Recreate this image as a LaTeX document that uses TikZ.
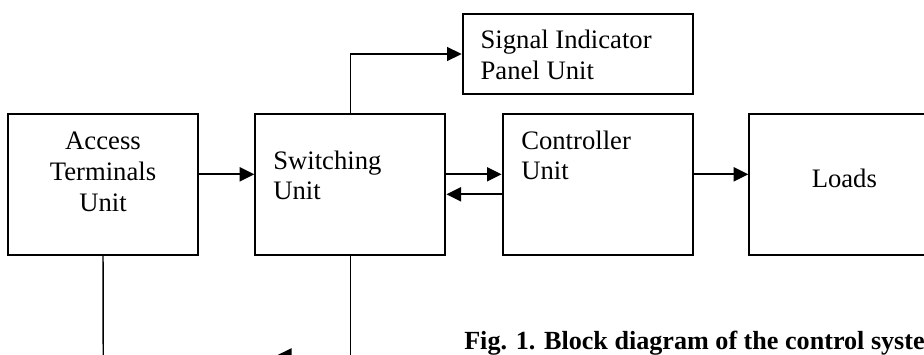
\documentclass[tikz,border=0pt]{standalone}
\usepackage{fontspec}
\setmainfont{Liberation Serif}
\usepackage{tikz}
\usetikzlibrary{arrows.meta, positioning}
\tikzset{%
  unit_block/.style={%
    rectangle,%
    draw=black,%
    line width=1.5pt,%
    minimum width=142.5pt,%
    minimum height=105.75pt,%
  },
  unit_text/.style={%
    inner sep=0pt,%
    align=left,%
    font={\fontsize{20}{23}\selectfont},%
  },
  caption_text/.style={%
    inner sep=0pt,%
    font={\fontsize{19.6}{23}\selectfont\bfseries},%
  },
  wire_path/.style={%
    color=black,%
    line width=1.5pt,%
    line join=miter,%
  },
  thin_path/.style={%
    color=black,%
    line width=1.1pt,%
  },
  arrow/.style={-{Triangle[length=11pt, width=10.5pt]}},
}
\begin{document}
\begin{tikzpicture}[x=0.75pt, y=-0.75pt]

    \useasboundingbox (0, 0) rectangle (924, 354);
    \clip (0, 0) rectangle (924, 354);

    \node [unit_block] (acc) at (103, 184.5) {};
    \node [unit_block, right = 41.5pt of acc] (sw) {};
    \node [unit_block, right = 41.5pt of sw] (ctrl) {};
    \node [unit_block, right = 41pt of ctrl] (loads) {};
    \node [unit_block, minimum width=172.5pt, minimum height=60pt,
      above = 13.5pt of ctrl.north east, anchor=south east] (sig) {};

    \node [unit_text, align=center] (acc_txt)
      at ([yshift=9.6pt]acc.center) {Access\\Terminals\\Unit};
    \node [unit_text, anchor=west] (sw_txt)
      at ([xshift=14pt, yshift=6.75pt]sw.west) {Switching\\Unit};
    \node [unit_text, anchor=west] (ctrl_txt)
      at ([xshift=14.5pt, yshift=21.75pt]ctrl.west) {Controller\\Unit};
    \node [unit_text, align=center] (loads_txt)
      at ([yshift=4.35pt]loads.center) {Loads};
    \node [unit_text, anchor=west] (sig_txt)
      at ([xshift=14pt, yshift=-0.75pt]sig.west) {Signal Indicator\\Panel Unit};

    \node [caption_text, anchor=base west] (fig_caption)
      at (464, 349.3) {Fig. 1. Block diagram of the control system};

    \coordinate (acc_down) at (103.3, 370);
    \coordinate (fb_tip) at (277, 355.3);

    \draw [arrow, wire_path]
      ([yshift=7.65pt]acc.east) -- ([yshift=7.65pt]sw.west);
    \draw [arrow, wire_path]
      ([yshift=7.65pt]sw.east) -- ([yshift=7.65pt]ctrl.west);
    \draw [arrow, wire_path]
      ([yshift=-7.35pt]ctrl.west) -- ([yshift=-7.35pt]sw.east);
    \draw [arrow, wire_path]
      ([yshift=7.65pt]ctrl.east) -- ([yshift=7.65pt]loads.west);
    \draw [arrow, thin_path]
      (sw.north)
      |-
      (sig.west);
    \draw [thin_path]
      (acc.south)
      --
      (acc_down);
    \draw [arrow, thin_path]
      (sw.south)
      |-
      (fb_tip);

  \end{tikzpicture}
\end{document}
